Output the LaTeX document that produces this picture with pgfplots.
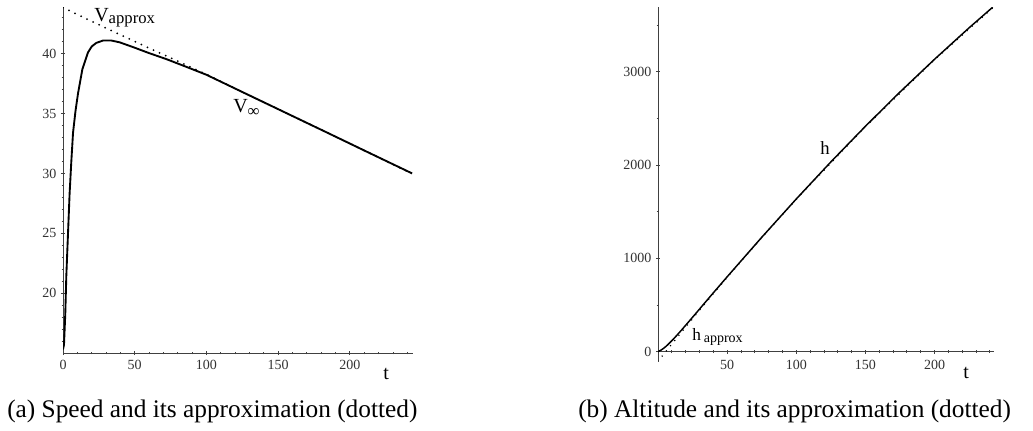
\documentclass[border=0pt]{standalone}
\usepackage{fontspec}
\setmainfont{Liberation Serif}
\usepackage{pgfplots}
\pgfplotsset{compat=1.18}

% shared look of both panels: thin grey axes, outward ticks, serif numbers
\pgfplotsset{
  maple/.style={
    scale only axis,
    tick style={black!75, line width=0.6pt},
    tick align=outside,
    major tick length=3pt,
    minor tick length=2.2pt,
    tick label style={font=\fontsize{10.5}{12}\selectfont, text=black!80},
    /pgf/number format/assume math mode=true,
    /pgf/number format/set thousands separator={},
  },
  plainaxes/.style={
    axis line style={black!75, line width=0.7pt, -},
    every outer x axis line/.append style={-},
    every outer y axis line/.append style={-},
    every inner x axis line/.append style={-},
    every inner y axis line/.append style={-},
  },
  solidcurve/.style={black, line width=1.4pt, line join=round},
  dottedcurve/.style={black, line width=1.5pt, line cap=round, dash pattern=on 0pt off 5pt},
}

\begin{document}
\begin{tikzpicture}[x=0.75pt,y=0.75pt]
\path[use as bounding box] (0,0) rectangle (1033,430);

% (a) speed
\begin{axis}[maple,
  at={(47.25pt,57.75pt)}, anchor=south west,
  width=262.5pt, height=259.5pt,
  axis lines=left, plainaxes,
  xmin=0, xmax=244, ymin=15, ymax=43.9,
  xtick={0,50,100,150,200}, ytick={20,25,30,35,40},
  minor xtick={10,20,...,240}, minor ytick={16,17,...,43},
]
\addplot[solidcurve] coordinates {
  (0,15.3) (0.7,15.7) (1.6,18.3) (2.3,21.4) (3.5,25.0) (4.6,28.3)
  (5.8,31.0) (7.0,33.4) (8.7,35.2) (10.5,36.7) (13.5,38.7) (17.4,40.1)
  (20,40.6) (23.2,40.9) (27.9,41.1) (33.7,41.1) (39.5,40.95) (50,40.5)
  (60,40.05) (72,39.55) (86,38.9) (100,38.24) (127.8,36.64) (155.7,35.04)
  (183.6,33.44) (211.5,31.83) (243.4,30.0)
};
\addplot[dottedcurve] coordinates {
  (0,43.85) (25,42.42) (50,41.02) (75,39.65) (100,38.27) (125,36.8)
  (150,35.37) (175,33.93) (200,32.5) (225,31.04) (243,30.0)
};
\end{axis}

% (b) altitude
\begin{axis}[maple,
  at={(493.5pt,51.75pt)}, anchor=south west,
  width=252pt, height=265.3pt,
  axis x line=middle, axis y line=left, plainaxes,
  xmin=0, xmax=243, ymin=-100, ymax=3690,
  xtick={50,100,150,200}, ytick={0,1000,2000,3000},
  minor xtick={10,20,...,240}, minor ytick={500,1500,2500,3500},
  xticklabel style={yshift=-1pt},
]
\addplot[solidcurve, line width=1.1pt] coordinates {
  (0,0) (2.3,17.8) (4.6,41.9) (7,73.2) (10.5,125) (13.5,173) (17.4,238)
  (23.2,338) (28,421) (34,526) (40,630) (50,802) (75,1225) (100,1636)
  (125,2033) (150,2415) (175,2782) (200,3133) (225,3470) (242,3690)
};
\addplot[dottedcurve, line width=1.2pt] coordinates {
  (0,-103) (5,-10.5) (10,81.4) (15,172.7) (20,263.4) (30,442.9) (40,620.1)
  (50,794.8) (75,1221) (100,1632) (150,2410) (200,3127) (242,3682)
};
\end{axis}

% curve and axis names
\node[anchor=base west, inner sep=0] at (94,408.3)
  {\fontsize{15}{15}\selectfont V\raisebox{-1.5pt}{\fontsize{12.5}{12.5}\selectfont approx}};
\node[anchor=base west, inner sep=0] at (233,318)
  {\fontsize{15}{15}\selectfont V\raisebox{-3.5pt}{\fontsize{12.5}{12.5}\selectfont ∞}};
\node[anchor=base west, inner sep=0] at (383,51) {\fontsize{15}{15}\selectfont t};
\node[anchor=base west, inner sep=0] at (820,276) {\fontsize{14}{14}\selectfont h};
\node[anchor=base west, inner sep=0] at (692,90)
  {\fontsize{13}{13}\selectfont h\,\raisebox{-1.5pt}{\fontsize{10.5}{10.5}\selectfont approx}};
\node[anchor=base west, inner sep=0] at (963,52) {\fontsize{15}{15}\selectfont t};

% captions
\node[anchor=base west, inner sep=0] at (7,12.5)
  {\fontsize{19}{19}\selectfont (a) Speed and its approximation (dotted)};
\node[anchor=base west, inner sep=0] at (578,12.5)
  {\fontsize{19}{19}\selectfont (b) Altitude and its approximation (dotted)};
\end{tikzpicture}
\end{document}
